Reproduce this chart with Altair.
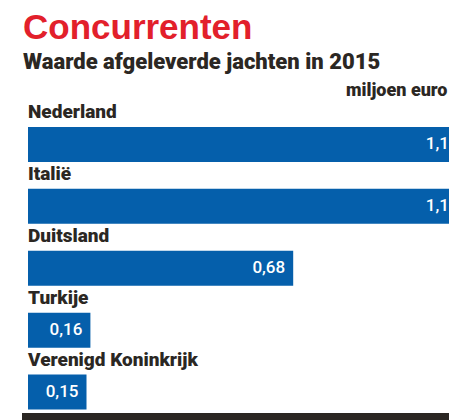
import altair as alt
import pandas as pd

countries = ["Nederland", "Italië", "Duitsland", "Turkije", "Verenigd Koninkrijk"]
values = [1.1, 1.1, 0.68, 0.16, 0.15]
value_labels = ["1,1", "1,1", "0,68", "0,16", "0,15"]

df = pd.DataFrame({"land": countries, "waarde": values, "label": value_labels})

FONT_N = "Roboto"
FONT = "Liberation Sans"
BLUE = "#055fab"
DARK = "#2b2723"
RED = "#e2202b"

xscale = alt.Scale(domain=[0, 1.1], range=[20, 449])
yscale = alt.Scale(domain=countries, range=[5.5, 315], paddingInner=0, paddingOuter=0)

base = alt.Chart(df)

bars = base.mark_bar(size=35, color=BLUE).encode(
    x=alt.X("waarde:Q", scale=xscale,
            axis=alt.Axis(orient="top", domain=False, ticks=False, labels=False, grid=False,
                          title="miljoen euro", titleAnchor="end", titleAlign="right",
                          titleBaseline="middle", titleX=439, titleY=-18,
                          titleFont=FONT_N, titleFontSize=18, titleFontWeight=900,
                          titleColor=DARK)),
    x2=alt.datum(0),
    y=alt.Y("land:N", scale=yscale, axis=None, sort=countries),
)

names = base.mark_text(align="left", baseline="middle", dy=-32, font=FONT_N,
                       fontSize=19, fontWeight=900, color=DARK).encode(
    x=alt.X("zero:Q", scale=xscale),
    y=alt.Y("land:N", scale=yscale, sort=countries),
    text="land:N",
).transform_calculate(zero="0")

vals = base.mark_text(align="right", baseline="middle", dx=-8, font=FONT_N,
                      fontSize=17, fontWeight=500, color="white").encode(
    x=alt.X("waarde:Q", scale=xscale),
    y=alt.Y("land:N", scale=yscale, sort=countries),
    text="label:N",
)

strip = alt.Chart(pd.DataFrame({"a": [0]})).mark_rect(color=DARK).encode(
    x=alt.value(14), x2=alt.value(449), y=alt.value(305), y2=alt.value(312)
)

chart = alt.layer(bars, names, vals, strip).properties(
    width=441,
    height=312,
    autosize=alt.AutoSizeParams(type="none"),
    padding={"left": 0, "top": 100, "right": 0, "bottom": 0},
    title=alt.TitleParams(
        text="Concurrenten",
        subtitle="Waarde afgeleverde jachten in 2015",
        anchor="start",
        frame="group",
        font=FONT, fontSize=35, fontWeight="bold", color=RED,
        subtitleFont=FONT_N, subtitleFontSize=22, subtitleFontWeight=900,
        subtitleColor=DARK, subtitlePadding=6, offset=8, dx=15,
    ),
).configure_view(stroke=None)

chart.save("out.html", embed_options={"renderer": "svg", "actions": False})
